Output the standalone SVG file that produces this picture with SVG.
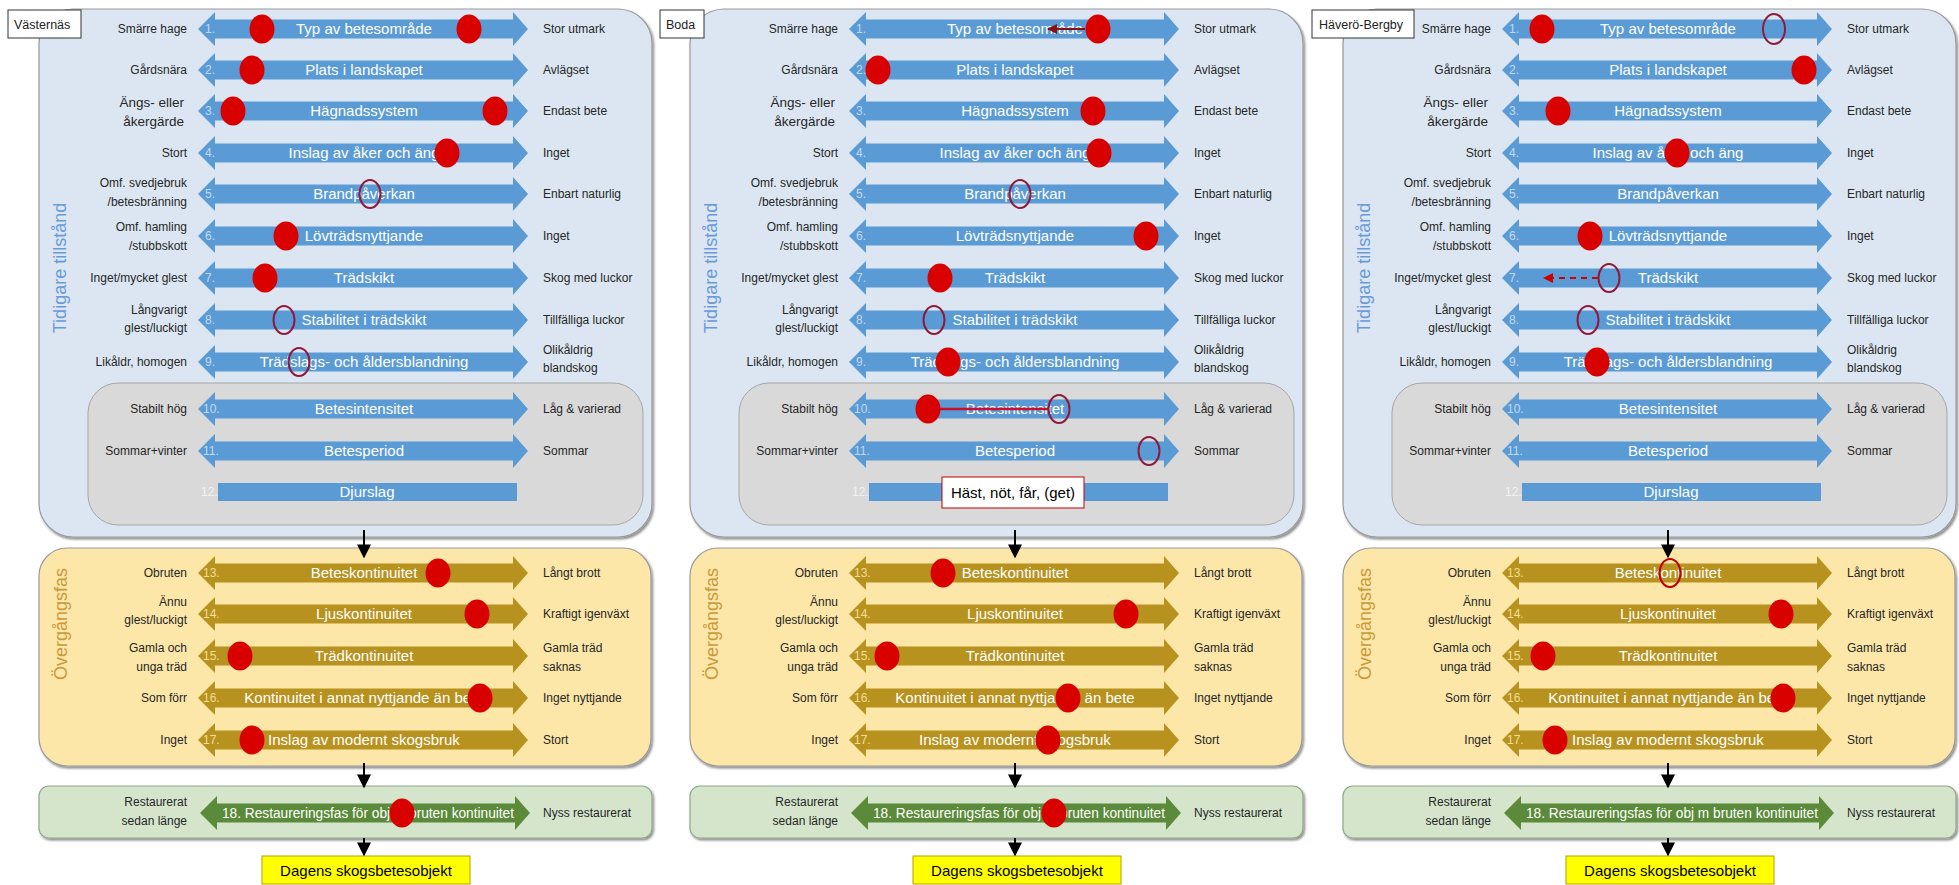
<svg xmlns="http://www.w3.org/2000/svg" xmlns:xlink="http://www.w3.org/1999/xlink" width="1959" height="885" viewBox="0 0 1959 885">
<style>
text{font-family:"Liberation Sans",Arial,sans-serif}
.ll{font-size:12px;fill:#262626;text-anchor:end}
.rl{font-size:12px;fill:#262626;text-anchor:start}
.at{font-size:15px;fill:#ffffff;text-anchor:middle}
.n{font-size:12px;fill:#c2d9f0}
.ng{font-size:12px;fill:#f3dc94}
.n12{font-size:12px;fill:#f2f2f2}
.ab{fill:#5b9bd5}
.ag{fill:#b8921f}
.agr{fill:#5a8a3a}
.dot{fill:#d90000}
.ring{fill:none;stroke:#8e1b3c;stroke-width:2}
.ringr{fill:none;stroke:#c00000;stroke-width:2}
.pb{fill:#dce6f2;stroke:#9a9a9a;stroke-width:1.2}
.pg{fill:#d9d9d9;stroke:#a6a6a6;stroke-width:1}
.py{fill:#fde7a8;stroke:#9a9a9a;stroke-width:1.2}
.pgr{fill:#d5e5cc;stroke:#8fa88a;stroke-width:1.2}
.tbox{fill:#ffffff;stroke:#333333;stroke-width:1}
.tt{font-size:12.5px;fill:#222222}
.vt1{font-size:18px;fill:#6a9bd8;text-anchor:middle}
.vt2{font-size:18px;fill:#c99a3c;text-anchor:middle}
.con{stroke:#000000;stroke-width:2;fill:none}
.dag{fill:#ffff00;stroke:#b8a000;stroke-width:1}
.dagt{font-size:15px;fill:#000000;text-anchor:middle}
</style>
<defs>
<path id="dbl" d="M0,0 L17,-17 L17,-9.5 L315,-9.5 L315,-17 L330,0 L315,17 L315,9.5 L17,9.5 L17,17 Z"/>
<filter id="sh" x="-5%" y="-5%" width="110%" height="115%"><feDropShadow dx="1.5" dy="2" stdDeviation="1.2" flood-color="#000" flood-opacity="0.45"/></filter>
<marker id="ah" viewBox="0 0 10 10" refX="9" refY="5" markerWidth="7" markerHeight="7" orient="auto"><path d="M0,0 L10,5 L0,10 Z" fill="#000"/></marker>
<marker id="ahr" viewBox="0 0 10 10" refX="9" refY="5" markerWidth="5" markerHeight="5" orient="auto"><path d="M0,0 L10,5 L0,10 Z" fill="#8b1010"/></marker>
<marker id="ahr2" viewBox="0 0 10 10" refX="9" refY="5" markerWidth="5" markerHeight="5" orient="auto"><path d="M0,0 L10,5 L0,10 Z" fill="#d00000"/></marker>
</defs>
<rect width="1959" height="885" fill="#ffffff"/>

<!-- ============ PANEL 1 : Västernäs ============ -->
<g id="panel-vasternas">
<g id="p1-bg">
<rect class="pb" x="39" y="9" width="613" height="528" rx="34" filter="url(#sh)"/>
<rect class="pg" x="88" y="383" width="555" height="142" rx="30"/>
<rect class="py" x="39" y="548" width="612" height="218" rx="28" filter="url(#sh)"/>
<rect class="pgr" x="39" y="786" width="613" height="52" rx="10" filter="url(#sh)"/>
<text class="vt1" transform="translate(66,268) rotate(-90)">Tidigare tillstånd</text>
<text class="vt2" transform="translate(67,624) rotate(-90)">Övergångsfas</text>
</g>
<g id="p1-r1"><use href="#dbl" x="198" y="29" class="ab"/><text class="n" x="205" y="33">1.</text><text class="at" x="364" y="34">Typ av betesområde</text><text class="ll" x="187" y="33">Smärre hage</text><text class="rl" x="543" y="33">Stor utmark</text><ellipse class="dot" cx="262" cy="29" rx="12.5" ry="14.5"/><ellipse class="dot" cx="469" cy="29" rx="12.5" ry="14.5"/></g>
<g id="p1-r2"><use href="#dbl" x="198" y="70" class="ab"/><text class="n" x="205" y="74">2.</text><text class="at" x="364" y="75">Plats i landskapet</text><text class="ll" x="187" y="74">Gårdsnära</text><text class="rl" x="543" y="74">Avlägset</text><ellipse class="dot" cx="252" cy="70" rx="12.5" ry="14.5"/></g>
<g id="p1-r3"><use href="#dbl" x="198" y="111" class="ab"/><text class="n" x="205" y="115">3.</text><text class="at" x="364" y="116">Hägnadssystem</text><text class="ll" x="184" y="107" style="font-size:13.5px">Ängs- eller</text><text class="ll" x="184" y="126" style="font-size:13.5px">åkergärde</text><text class="rl" x="543" y="115">Endast bete</text><ellipse class="dot" cx="233" cy="111" rx="12.5" ry="14.5"/><ellipse class="dot" cx="495" cy="111" rx="12.5" ry="14.5"/></g>
<g id="p1-r4"><use href="#dbl" x="198" y="153" class="ab"/><text class="n" x="205" y="157">4.</text><text class="at" x="364" y="158">Inslag av åker och äng</text><text class="ll" x="187" y="157">Stort</text><text class="rl" x="543" y="157">Inget</text><ellipse class="dot" cx="447" cy="153" rx="12.5" ry="14.5"/></g>
<g id="p1-r5"><use href="#dbl" x="198" y="194" class="ab"/><text class="n" x="205" y="198">5.</text><text class="at" x="364" y="199">Brandpåverkan</text><text class="ll" x="187" y="187">Omf. svedjebruk</text><text class="ll" x="187" y="206">/betesbränning</text><text class="rl" x="543" y="198">Enbart naturlig</text><ellipse class="ring" cx="370" cy="194" rx="10.5" ry="14"/></g>
<g id="p1-r6"><use href="#dbl" x="198" y="236" class="ab"/><text class="n" x="205" y="240">6.</text><text class="at" x="364" y="241">Lövträdsnyttjande</text><text class="ll" x="187" y="231">Omf. hamling</text><text class="ll" x="187" y="250">/stubbskott</text><text class="rl" x="543" y="240">Inget</text><ellipse class="dot" cx="286" cy="236" rx="12.5" ry="14.5"/></g>
<g id="p1-r7"><use href="#dbl" x="198" y="278" class="ab"/><text class="n" x="205" y="282">7.</text><text class="at" x="364" y="283">Trädskikt</text><text class="ll" x="187" y="282">Inget/mycket glest</text><text class="rl" x="543" y="282">Skog med luckor</text><ellipse class="dot" cx="265" cy="278" rx="12.5" ry="14.5"/></g>
<g id="p1-r8"><use href="#dbl" x="198" y="320" class="ab"/><text class="n" x="205" y="324">8.</text><text class="at" x="364" y="325">Stabilitet i trädskikt</text><text class="ll" x="187" y="314">Långvarigt</text><text class="ll" x="187" y="332">glest/luckigt</text><text class="rl" x="543" y="324">Tillfälliga luckor</text><ellipse class="ring" cx="284" cy="320" rx="10.5" ry="14"/></g>
<g id="p1-r9"><use href="#dbl" x="198" y="362" class="ab"/><text class="n" x="205" y="366">9.</text><text class="at" x="364" y="367">Trädslags- och åldersblandning</text><text class="ll" x="187" y="366">Likåldr, homogen</text><text class="rl" x="543" y="354">Olikåldrig</text><text class="rl" x="543" y="372">blandskog</text><ellipse class="ring" cx="299" cy="362" rx="10.5" ry="14"/></g>
<g id="p1-r10"><use href="#dbl" x="198" y="409" class="ab"/><text class="n" x="203" y="413">10.</text><text class="at" x="364" y="414">Betesintensitet</text><text class="ll" x="187" y="413">Stabilt hög</text><text class="rl" x="543" y="413">Låg &amp; varierad</text></g>
<g id="p1-r11"><use href="#dbl" x="198" y="451" class="ab"/><text class="n" x="203" y="455">11.</text><text class="at" x="364" y="456">Betesperiod</text><text class="ll" x="187" y="455">Sommar+vinter</text><text class="rl" x="543" y="455">Sommar</text></g>
<g id="p1-r12"><rect x="218" y="483" width="299" height="18" class="ab"/><text class="n12" x="201" y="496">12.</text><text class="at" x="367" y="497">Djurslag</text></g>
<g id="p1-r13"><use href="#dbl" x="198" y="573" class="ag"/><text class="ng" x="203" y="577">13.</text><text class="at" x="364" y="578">Beteskontinuitet</text><text class="ll" x="187" y="577">Obruten</text><text class="rl" x="543" y="577">Långt brott</text><ellipse class="dot" cx="438" cy="573" rx="12.5" ry="14.5"/></g>
<g id="p1-r14"><use href="#dbl" x="198" y="614" class="ag"/><text class="ng" x="203" y="618">14.</text><text class="at" x="364" y="619">Ljuskontinuitet</text><text class="ll" x="187" y="606">Ännu</text><text class="ll" x="187" y="624">glest/luckigt</text><text class="rl" x="543" y="618">Kraftigt igenväxt</text><ellipse class="dot" cx="477" cy="614" rx="12.5" ry="14.5"/></g>
<g id="p1-r15"><use href="#dbl" x="198" y="656" class="ag"/><text class="ng" x="203" y="660">15.</text><text class="at" x="364" y="661">Trädkontinuitet</text><text class="ll" x="187" y="652">Gamla och</text><text class="ll" x="187" y="671">unga träd</text><text class="rl" x="543" y="652">Gamla träd</text><text class="rl" x="543" y="671">saknas</text><ellipse class="dot" cx="240" cy="656" rx="12.5" ry="14.5"/></g>
<g id="p1-r16"><use href="#dbl" x="198" y="698" class="ag"/><text class="ng" x="203" y="702">16.</text><text class="at" x="364" y="703">Kontinuitet i annat nyttjande än bete</text><text class="ll" x="187" y="702">Som förr</text><text class="rl" x="543" y="702">Inget nyttjande</text><ellipse class="dot" cx="480" cy="698" rx="12.5" ry="14.5"/></g>
<g id="p1-r17"><use href="#dbl" x="198" y="740" class="ag"/><text class="ng" x="203" y="744">17.</text><text class="at" x="364" y="745">Inslag av modernt skogsbruk</text><text class="ll" x="187" y="744">Inget</text><text class="rl" x="543" y="744">Stort</text><ellipse class="dot" cx="252" cy="740" rx="12.5" ry="14.5"/></g>
<g id="p1-r18"><use href="#dbl" x="200" y="813" class="agr"/><text class="at" x="368" y="818" style="font-size:14px" textLength="292" lengthAdjust="spacingAndGlyphs">18. Restaureringsfas för obj m bruten kontinuitet</text><text class="ll" x="187" y="806">Restaurerat</text><text class="ll" x="187" y="825">sedan länge</text><text class="rl" x="543" y="817">Nyss restaurerat</text><ellipse class="dot" cx="402" cy="813" rx="12.5" ry="14.5"/></g>
<g id="p1-result"><rect class="dag" x="262" y="856" width="208" height="28"/><text class="dagt" x="366" y="876">Dagens skogsbetesobjekt</text></g>
<g id="p1-title"><rect class="tbox" x="8" y="10" width="73" height="28"/><text class="tt" x="14" y="29">Västernäs</text></g>
</g>

<!-- ============ PANEL 2 : Boda ============ -->
<g id="panel-boda" transform="translate(651,0)">
<g id="p2-bg">
<rect class="pb" x="39" y="9" width="613" height="528" rx="34" filter="url(#sh)"/>
<rect class="pg" x="88" y="383" width="555" height="142" rx="30"/>
<rect class="py" x="39" y="548" width="612" height="218" rx="28" filter="url(#sh)"/>
<rect class="pgr" x="39" y="786" width="613" height="52" rx="10" filter="url(#sh)"/>
<text class="vt1" transform="translate(66,268) rotate(-90)">Tidigare tillstånd</text>
<text class="vt2" transform="translate(67,624) rotate(-90)">Övergångsfas</text>
</g>
<g id="p2-r1"><use href="#dbl" x="198" y="29" class="ab"/><text class="n" x="205" y="33">1.</text><text class="at" x="364" y="34">Typ av betesområde</text><text class="ll" x="187" y="33">Smärre hage</text><text class="rl" x="543" y="33">Stor utmark</text><line x1="434" y1="29" x2="397" y2="29" stroke="#8b1010" stroke-width="2" marker-end="url(#ahr)"/><ellipse class="dot" cx="447" cy="29" rx="12.5" ry="14.5"/></g>
<g id="p2-r2"><use href="#dbl" x="198" y="70" class="ab"/><text class="n" x="205" y="74">2.</text><text class="at" x="364" y="75">Plats i landskapet</text><text class="ll" x="187" y="74">Gårdsnära</text><text class="rl" x="543" y="74">Avlägset</text><ellipse class="dot" cx="227" cy="70" rx="12.5" ry="14.5"/></g>
<g id="p2-r3"><use href="#dbl" x="198" y="111" class="ab"/><text class="n" x="205" y="115">3.</text><text class="at" x="364" y="116">Hägnadssystem</text><text class="ll" x="184" y="107" style="font-size:13.5px">Ängs- eller</text><text class="ll" x="184" y="126" style="font-size:13.5px">åkergärde</text><text class="rl" x="543" y="115">Endast bete</text><ellipse class="dot" cx="442" cy="111" rx="12.5" ry="14.5"/></g>
<g id="p2-r4"><use href="#dbl" x="198" y="153" class="ab"/><text class="n" x="205" y="157">4.</text><text class="at" x="364" y="158">Inslag av åker och äng</text><text class="ll" x="187" y="157">Stort</text><text class="rl" x="543" y="157">Inget</text><ellipse class="dot" cx="448" cy="153" rx="12.5" ry="14.5"/></g>
<g id="p2-r5"><use href="#dbl" x="198" y="194" class="ab"/><text class="n" x="205" y="198">5.</text><text class="at" x="364" y="199">Brandpåverkan</text><text class="ll" x="187" y="187">Omf. svedjebruk</text><text class="ll" x="187" y="206">/betesbränning</text><text class="rl" x="543" y="198">Enbart naturlig</text><ellipse class="ring" cx="369" cy="194" rx="10.5" ry="14"/></g>
<g id="p2-r6"><use href="#dbl" x="198" y="236" class="ab"/><text class="n" x="205" y="240">6.</text><text class="at" x="364" y="241">Lövträdsnyttjande</text><text class="ll" x="187" y="231">Omf. hamling</text><text class="ll" x="187" y="250">/stubbskott</text><text class="rl" x="543" y="240">Inget</text><ellipse class="dot" cx="495" cy="236" rx="12.5" ry="14.5"/></g>
<g id="p2-r7"><use href="#dbl" x="198" y="278" class="ab"/><text class="n" x="205" y="282">7.</text><text class="at" x="364" y="283">Trädskikt</text><text class="ll" x="187" y="282">Inget/mycket glest</text><text class="rl" x="543" y="282">Skog med luckor</text><ellipse class="dot" cx="289" cy="278" rx="12.5" ry="14.5"/></g>
<g id="p2-r8"><use href="#dbl" x="198" y="320" class="ab"/><text class="n" x="205" y="324">8.</text><text class="at" x="364" y="325">Stabilitet i trädskikt</text><text class="ll" x="187" y="314">Långvarigt</text><text class="ll" x="187" y="332">glest/luckigt</text><text class="rl" x="543" y="324">Tillfälliga luckor</text><ellipse class="ring" cx="283" cy="320" rx="10.5" ry="14"/></g>
<g id="p2-r9"><use href="#dbl" x="198" y="362" class="ab"/><text class="n" x="205" y="366">9.</text><text class="at" x="364" y="367">Trädslags- och åldersblandning</text><text class="ll" x="187" y="366">Likåldr, homogen</text><text class="rl" x="543" y="354">Olikåldrig</text><text class="rl" x="543" y="372">blandskog</text><ellipse class="dot" cx="297" cy="362" rx="12.5" ry="14.5"/></g>
<g id="p2-r10"><use href="#dbl" x="198" y="409" class="ab"/><text class="n" x="203" y="413">10.</text><text class="at" x="364" y="414">Betesintensitet</text><text class="ll" x="187" y="413">Stabilt hög</text><text class="rl" x="543" y="413">Låg &amp; varierad</text><line x1="277" y1="409" x2="398" y2="409" stroke="#c8102e" stroke-width="2.5"/><ellipse class="dot" cx="277" cy="409" rx="12.5" ry="14.5"/><ellipse class="ring" cx="408" cy="409" rx="10.5" ry="14"/></g>
<g id="p2-r11"><use href="#dbl" x="198" y="451" class="ab"/><text class="n" x="203" y="455">11.</text><text class="at" x="364" y="456">Betesperiod</text><text class="ll" x="187" y="455">Sommar+vinter</text><text class="rl" x="543" y="455">Sommar</text><ellipse class="ring" cx="498" cy="451" rx="10.5" ry="14"/></g>
<g id="p2-r12"><rect x="218" y="483" width="299" height="18" class="ab"/><text class="n12" x="201" y="496">12.</text><rect x="291" y="477" width="142" height="31" fill="#ffffff" stroke="#c00000" stroke-width="1"/><text x="362" y="498" style="font-size:15px;fill:#000;text-anchor:middle">Häst, nöt, får, (get)</text></g>
<g id="p2-r13"><use href="#dbl" x="198" y="573" class="ag"/><text class="ng" x="203" y="577">13.</text><text class="at" x="364" y="578">Beteskontinuitet</text><text class="ll" x="187" y="577">Obruten</text><text class="rl" x="543" y="577">Långt brott</text><ellipse class="dot" cx="292" cy="573" rx="12.5" ry="14.5"/></g>
<g id="p2-r14"><use href="#dbl" x="198" y="614" class="ag"/><text class="ng" x="203" y="618">14.</text><text class="at" x="364" y="619">Ljuskontinuitet</text><text class="ll" x="187" y="606">Ännu</text><text class="ll" x="187" y="624">glest/luckigt</text><text class="rl" x="543" y="618">Kraftigt igenväxt</text><ellipse class="dot" cx="475" cy="614" rx="12.5" ry="14.5"/></g>
<g id="p2-r15"><use href="#dbl" x="198" y="656" class="ag"/><text class="ng" x="203" y="660">15.</text><text class="at" x="364" y="661">Trädkontinuitet</text><text class="ll" x="187" y="652">Gamla och</text><text class="ll" x="187" y="671">unga träd</text><text class="rl" x="543" y="652">Gamla träd</text><text class="rl" x="543" y="671">saknas</text><ellipse class="dot" cx="236" cy="656" rx="12.5" ry="14.5"/></g>
<g id="p2-r16"><use href="#dbl" x="198" y="698" class="ag"/><text class="ng" x="203" y="702">16.</text><text class="at" x="364" y="703">Kontinuitet i annat nyttjande än bete</text><text class="ll" x="187" y="702">Som förr</text><text class="rl" x="543" y="702">Inget nyttjande</text><ellipse class="dot" cx="417" cy="698" rx="12.5" ry="14.5"/></g>
<g id="p2-r17"><use href="#dbl" x="198" y="740" class="ag"/><text class="ng" x="203" y="744">17.</text><text class="at" x="364" y="745">Inslag av modernt skogsbruk</text><text class="ll" x="187" y="744">Inget</text><text class="rl" x="543" y="744">Stort</text><ellipse class="dot" cx="397" cy="740" rx="12.5" ry="14.5"/></g>
<g id="p2-r18"><use href="#dbl" x="200" y="813" class="agr"/><text class="at" x="368" y="818" style="font-size:14px" textLength="292" lengthAdjust="spacingAndGlyphs">18. Restaureringsfas för obj m bruten kontinuitet</text><text class="ll" x="187" y="806">Restaurerat</text><text class="ll" x="187" y="825">sedan länge</text><text class="rl" x="543" y="817">Nyss restaurerat</text><ellipse class="dot" cx="403" cy="813" rx="12.5" ry="14.5"/></g>
<g id="p2-result"><rect class="dag" x="262" y="856" width="208" height="28"/><text class="dagt" x="366" y="876">Dagens skogsbetesobjekt</text></g>
<g id="p2-title"><rect class="tbox" x="9" y="10" width="44" height="28"/><text class="tt" x="15" y="29">Boda</text></g>
</g>

<!-- ============ PANEL 3 : Häverö-Bergby ============ -->
<g id="panel-havero" transform="translate(1304,0)">
<g id="p3-bg">
<rect class="pb" x="39" y="9" width="613" height="528" rx="34" filter="url(#sh)"/>
<rect class="pg" x="88" y="383" width="555" height="142" rx="30"/>
<rect class="py" x="39" y="548" width="612" height="218" rx="28" filter="url(#sh)"/>
<rect class="pgr" x="39" y="786" width="613" height="52" rx="10" filter="url(#sh)"/>
<text class="vt1" transform="translate(66,268) rotate(-90)">Tidigare tillstånd</text>
<text class="vt2" transform="translate(67,624) rotate(-90)">Övergångsfas</text>
</g>
<g id="p3-r1"><use href="#dbl" x="198" y="29" class="ab"/><text class="n" x="205" y="33">1.</text><text class="at" x="364" y="34">Typ av betesområde</text><text class="ll" x="187" y="33">Smärre hage</text><text class="rl" x="543" y="33">Stor utmark</text><ellipse class="dot" cx="238" cy="29" rx="12.5" ry="14.5"/><ellipse class="ring" cx="470" cy="29" rx="11" ry="15"/></g>
<g id="p3-r2"><use href="#dbl" x="198" y="70" class="ab"/><text class="n" x="205" y="74">2.</text><text class="at" x="364" y="75">Plats i landskapet</text><text class="ll" x="187" y="74">Gårdsnära</text><text class="rl" x="543" y="74">Avlägset</text><ellipse class="dot" cx="500" cy="70" rx="12.5" ry="14.5"/></g>
<g id="p3-r3"><use href="#dbl" x="198" y="111" class="ab"/><text class="n" x="205" y="115">3.</text><text class="at" x="364" y="116">Hägnadssystem</text><text class="ll" x="184" y="107" style="font-size:13.5px">Ängs- eller</text><text class="ll" x="184" y="126" style="font-size:13.5px">åkergärde</text><text class="rl" x="543" y="115">Endast bete</text><ellipse class="dot" cx="254" cy="111" rx="12.5" ry="14.5"/></g>
<g id="p3-r4"><use href="#dbl" x="198" y="153" class="ab"/><text class="n" x="205" y="157">4.</text><text class="at" x="364" y="158">Inslag av åker och äng</text><text class="ll" x="187" y="157">Stort</text><text class="rl" x="543" y="157">Inget</text><ellipse class="dot" cx="373" cy="153" rx="12.5" ry="14.5"/></g>
<g id="p3-r5"><use href="#dbl" x="198" y="194" class="ab"/><text class="n" x="205" y="198">5.</text><text class="at" x="364" y="199">Brandpåverkan</text><text class="ll" x="187" y="187">Omf. svedjebruk</text><text class="ll" x="187" y="206">/betesbränning</text><text class="rl" x="543" y="198">Enbart naturlig</text></g>
<g id="p3-r6"><use href="#dbl" x="198" y="236" class="ab"/><text class="n" x="205" y="240">6.</text><text class="at" x="364" y="241">Lövträdsnyttjande</text><text class="ll" x="187" y="231">Omf. hamling</text><text class="ll" x="187" y="250">/stubbskott</text><text class="rl" x="543" y="240">Inget</text><ellipse class="dot" cx="286" cy="236" rx="12.5" ry="14.5"/></g>
<g id="p3-r7"><use href="#dbl" x="198" y="278" class="ab"/><text class="n" x="205" y="282">7.</text><text class="at" x="364" y="283">Trädskikt</text><text class="ll" x="187" y="282">Inget/mycket glest</text><text class="rl" x="543" y="282">Skog med luckor</text><line x1="294" y1="278" x2="240" y2="278" stroke="#d00000" stroke-width="2" stroke-dasharray="6,5" marker-end="url(#ahr2)"/><ellipse class="ring" cx="305" cy="278" rx="10.5" ry="14"/></g>
<g id="p3-r8"><use href="#dbl" x="198" y="320" class="ab"/><text class="n" x="205" y="324">8.</text><text class="at" x="364" y="325">Stabilitet i trädskikt</text><text class="ll" x="187" y="314">Långvarigt</text><text class="ll" x="187" y="332">glest/luckigt</text><text class="rl" x="543" y="324">Tillfälliga luckor</text><ellipse class="ring" cx="284" cy="320" rx="10.5" ry="14"/></g>
<g id="p3-r9"><use href="#dbl" x="198" y="362" class="ab"/><text class="n" x="205" y="366">9.</text><text class="at" x="364" y="367">Trädslags- och åldersblandning</text><text class="ll" x="187" y="366">Likåldr, homogen</text><text class="rl" x="543" y="354">Olikåldrig</text><text class="rl" x="543" y="372">blandskog</text><ellipse class="dot" cx="293" cy="362" rx="12.5" ry="14.5"/></g>
<g id="p3-r10"><use href="#dbl" x="198" y="409" class="ab"/><text class="n" x="203" y="413">10.</text><text class="at" x="364" y="414">Betesintensitet</text><text class="ll" x="187" y="413">Stabilt hög</text><text class="rl" x="543" y="413">Låg &amp; varierad</text></g>
<g id="p3-r11"><use href="#dbl" x="198" y="451" class="ab"/><text class="n" x="203" y="455">11.</text><text class="at" x="364" y="456">Betesperiod</text><text class="ll" x="187" y="455">Sommar+vinter</text><text class="rl" x="543" y="455">Sommar</text></g>
<g id="p3-r12"><rect x="218" y="483" width="299" height="18" class="ab"/><text class="n12" x="201" y="496">12.</text><text class="at" x="367" y="497">Djurslag</text></g>
<g id="p3-r13"><use href="#dbl" x="198" y="573" class="ag"/><text class="ng" x="203" y="577">13.</text><text class="at" x="364" y="578">Beteskontinuitet</text><text class="ll" x="187" y="577">Obruten</text><text class="rl" x="543" y="577">Långt brott</text><ellipse class="ringr" cx="366" cy="573" rx="10.5" ry="14"/></g>
<g id="p3-r14"><use href="#dbl" x="198" y="614" class="ag"/><text class="ng" x="203" y="618">14.</text><text class="at" x="364" y="619">Ljuskontinuitet</text><text class="ll" x="187" y="606">Ännu</text><text class="ll" x="187" y="624">glest/luckigt</text><text class="rl" x="543" y="618">Kraftigt igenväxt</text><ellipse class="dot" cx="477" cy="614" rx="12.5" ry="14.5"/></g>
<g id="p3-r15"><use href="#dbl" x="198" y="656" class="ag"/><text class="ng" x="203" y="660">15.</text><text class="at" x="364" y="661">Trädkontinuitet</text><text class="ll" x="187" y="652">Gamla och</text><text class="ll" x="187" y="671">unga träd</text><text class="rl" x="543" y="652">Gamla träd</text><text class="rl" x="543" y="671">saknas</text><ellipse class="dot" cx="239" cy="656" rx="12.5" ry="14.5"/></g>
<g id="p3-r16"><use href="#dbl" x="198" y="698" class="ag"/><text class="ng" x="203" y="702">16.</text><text class="at" x="364" y="703">Kontinuitet i annat nyttjande än bete</text><text class="ll" x="187" y="702">Som förr</text><text class="rl" x="543" y="702">Inget nyttjande</text><ellipse class="dot" cx="479" cy="698" rx="12.5" ry="14.5"/></g>
<g id="p3-r17"><use href="#dbl" x="198" y="740" class="ag"/><text class="ng" x="203" y="744">17.</text><text class="at" x="364" y="745">Inslag av modernt skogsbruk</text><text class="ll" x="187" y="744">Inget</text><text class="rl" x="543" y="744">Stort</text><ellipse class="dot" cx="251" cy="740" rx="12.5" ry="14.5"/></g>
<g id="p3-r18"><use href="#dbl" x="200" y="813" class="agr"/><text class="at" x="368" y="818" style="font-size:14px" textLength="292" lengthAdjust="spacingAndGlyphs">18. Restaureringsfas för obj m bruten kontinuitet</text><text class="ll" x="187" y="806">Restaurerat</text><text class="ll" x="187" y="825">sedan länge</text><text class="rl" x="543" y="817">Nyss restaurerat</text></g>
<g id="p3-result"><rect class="dag" x="262" y="856" width="208" height="28"/><text class="dagt" x="366" y="876">Dagens skogsbetesobjekt</text></g>
<g id="p3-title"><rect class="tbox" x="8" y="10" width="102" height="28"/><text class="tt" x="15" y="29">Häverö-Bergby</text></g>
</g>

<!-- ============ CONNECTORS ============ -->
<g id="connectors">
<line class="con" x1="364" y1="530" x2="364" y2="557" marker-end="url(#ah)"/>
<line class="con" x1="364" y1="763" x2="364" y2="787" marker-end="url(#ah)"/>
<line class="con" x1="364" y1="838" x2="364" y2="855" marker-end="url(#ah)"/>
<line class="con" x1="1015" y1="530" x2="1015" y2="557" marker-end="url(#ah)"/>
<line class="con" x1="1015" y1="763" x2="1015" y2="787" marker-end="url(#ah)"/>
<line class="con" x1="1015" y1="838" x2="1015" y2="855" marker-end="url(#ah)"/>
<line class="con" x1="1668" y1="530" x2="1668" y2="557" marker-end="url(#ah)"/>
<line class="con" x1="1668" y1="763" x2="1668" y2="787" marker-end="url(#ah)"/>
<line class="con" x1="1668" y1="838" x2="1668" y2="855" marker-end="url(#ah)"/>
</g>
</svg>
